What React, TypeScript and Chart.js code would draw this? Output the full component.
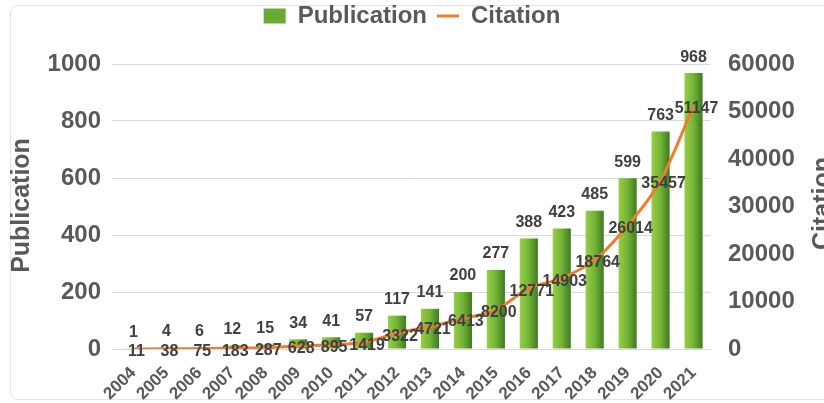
import React, { useEffect, useRef } from "react";
import { Chart, registerables } from "chart.js";

Chart.register(...registerables);

const years = ["2004", "2005", "2006", "2007", "2008", "2009", "2010", "2011", "2012", "2013", "2014", "2015", "2016", "2017", "2018", "2019", "2020", "2021"];
const publications = [1, 4, 6, 12, 15, 34, 41, 57, 117, 141, 200, 277, 388, 423, 485, 599, 763, 968];
const citations = [11, 38, 75, 183, 287, 628, 895, 1419, 3322, 4721, 6413, 8200, 12771, 14903, 18764, 26014, 35457, 51147];
const leftAxisTitle = "Publication";
const rightAxisTitle = "Citation";

const FONT = '"Liberation Sans", Arial, sans-serif';
const GRAY = "#595959";
const LABEL = "#404040";

const valueLabels = {
  id: "valueLabels",
  afterDatasetsDraw(chart: any) {
    const ctx = chart.ctx;
    ctx.save();
    ctx.font = `bold 16px ${FONT}`;
    ctx.fillStyle = LABEL;
    ctx.textAlign = "center";
    ctx.textBaseline = "middle";
    const barMeta = chart.getDatasetMeta(0);
    barMeta.data.forEach((el: any, i: number) => {
      ctx.fillText(String(publications[i]), el.x, el.y - 16);
    });
    const lineMeta = chart.getDatasetMeta(1);
    lineMeta.data.forEach((el: any, i: number) => {
      ctx.fillText(String(citations[i]), el.x + 3, el.y + 3);
    });
    ctx.restore();
  },
};

const axisTitles = {
  id: "axisTitles",
  afterDraw(chart: any) {
    const ctx = chart.ctx;
    const area = chart.chartArea;
    const cy = (area.top + area.bottom) / 2;
    ctx.save();
    ctx.font = `bold 25px ${FONT}`;
    ctx.fillStyle = GRAY;
    ctx.textAlign = "center";
    ctx.textBaseline = "middle";
    ctx.translate(22, cy - 1);
    ctx.rotate(-Math.PI / 2);
    ctx.fillText(leftAxisTitle, 0, 0);
    ctx.restore();
    ctx.save();
    ctx.font = `bold 25px ${FONT}`;
    ctx.fillStyle = GRAY;
    ctx.textAlign = "center";
    ctx.textBaseline = "middle";
    ctx.translate(chart.width - 1, cy - 3);
    ctx.rotate(-Math.PI / 2);
    ctx.fillText(rightAxisTitle, 0, 0);
    ctx.restore();
  },
};

// Give the legend extra room below its row, so the plot starts lower while the legend stays at the top.
const legendSpacer = {
  id: "legendSpacer",
  beforeLayout(chart: any) {
    const lg = chart.legend;
    if (lg && !lg.__spaced) {
      const orig = lg.fit;
      lg.fit = function () {
        orig.call(this);
        this.height += 26;
      };
      lg.__spaced = true;
    }
  },
};

export default function App() {
  const ref = useRef<HTMLCanvasElement | null>(null);

  useEffect(() => {
    document.body.style.margin = "0";
    const canvas = ref.current;
    if (!canvas) return;
    const barFill = (c: any) => {
      const chart = c.chart;
      const xs = chart.scales && chart.scales.x;
      if (!xs || !chart.chartArea) return "#6fae36";
      const cx = xs.getPixelForValue(c.dataIndex);
      const w = (xs.width / years.length) * 0.55;
      const g = chart.ctx.createLinearGradient(cx - w / 2, 0, cx + w / 2, 0);
      g.addColorStop(0, "#96cf47");
      g.addColorStop(0.5, "#74b336");
      g.addColorStop(1, "#3d7a22");
      return g;
    };
    const chart = new Chart(canvas, {
      type: "bar",
      data: {
        labels: years,
        datasets: [
          {
            type: "bar",
            label: "Publication",
            data: publications,
            yAxisID: "y",
            backgroundColor: barFill,
            borderWidth: 0,
            barPercentage: 0.55,
            categoryPercentage: 1,
            order: 2,
            pointStyle: "rect",
          } as any,
          {
            type: "line",
            label: "Citation",
            data: citations,
            yAxisID: "y1",
            borderColor: "#ED7D31",
            backgroundColor: "#ED7D31",
            borderWidth: 3,
            pointRadius: 0,
            cubicInterpolationMode: "monotone",
            fill: false,
            order: 1,
            pointStyle: "line",
          } as any,
        ],
      },
      options: {
        responsive: false,
        animation: false,
        devicePixelRatio: 1,
        layout: { padding: { top: -6, left: 0, right: 0, bottom: 0 } },
        plugins: {
          tooltip: { enabled: false },
          legend: {
            position: "top",
            labels: {
              usePointStyle: true,
              pointStyleWidth: 22,
              boxHeight: 15,
              padding: 10,
              color: GRAY,
              font: { family: FONT, size: 24, weight: "bold" },
              sort: (a: any, b: any) => a.datasetIndex - b.datasetIndex,
              generateLabels: (chart: any) =>
                chart.data.datasets.map((ds: any, i: number) => ({
                  text: ds.label,
                  datasetIndex: i,
                  fillStyle: i === 0 ? "#6aaa34" : "#ED7D31",
                  strokeStyle: i === 0 ? "#6aaa34" : "#ED7D31",
                  lineWidth: i === 0 ? 0 : 3,
                  pointStyle: i === 0 ? "rect" : "line",
                  fontColor: GRAY,
                  hidden: false,
                })),
            },
          },
        },
        scales: {
          x: {
            offset: true,
            grid: { display: false },
            border: { display: true, color: "#d9d9d9", width: 1 },
            ticks: {
              autoSkip: false,
              minRotation: 45,
              maxRotation: 45,
              padding: 6,
              color: GRAY,
              font: { family: FONT, size: 17, weight: "bold" },
            },
            afterFit: (s: any) => {
              s.height = 54;
            },
          },
          y: {
            position: "left",
            min: 0,
            max: 1000,
            ticks: {
              stepSize: 200,
              padding: 11,
              color: GRAY,
              font: { family: FONT, size: 24, weight: "bold" },
              callback: (v: any) => String(v),
            },
            grid: { color: "#d9d9d9", lineWidth: 1, tickLength: 5 },
            border: { display: false },
            afterFit: (s: any) => {
              s.width = 117;
            },
          },
          y1: {
            position: "right",
            min: 0,
            max: 60000,
            ticks: {
              stepSize: 10000,
              padding: 18,
              color: GRAY,
              font: { family: FONT, size: 24, weight: "bold" },
              callback: (v: any) => String(v),
            },
            grid: { drawOnChartArea: false, drawTicks: false },
            border: { display: false },
            afterFit: (s: any) => {
              s.width = 114;
            },
          },
        },
      } as any,
      plugins: [legendSpacer, valueLabels, axisTitles],
    });
    return () => chart.destroy();
  }, []);

  return (
    <div style={{ position: "fixed", left: 0, top: 0, width: 824, height: 403, background: "#fff", overflow: "hidden" }}>
      <div
        style={{
          position: "absolute",
          left: 10,
          top: 5,
          width: 840,
          height: 395,
          border: "1px solid #e4e4e4",
          borderRadius: 8,
          boxSizing: "border-box",
        }}
      />
      <canvas ref={ref} width={824} height={403} style={{ position: "absolute", left: 0, top: 0, display: "block" }} />
    </div>
  );
}
